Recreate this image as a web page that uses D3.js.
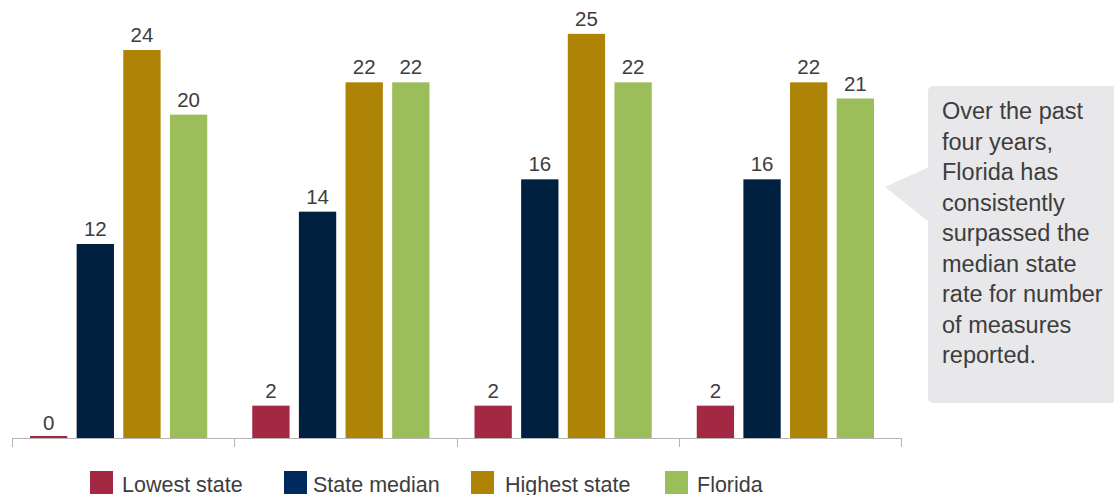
<!DOCTYPE html>
<html>
<head>
<meta charset="utf-8">
<script src="https://cdn.jsdelivr.net/npm/d3@7"></script>
<style>
  body { margin: 0; background: #fff; }
  text { font-family: "Liberation Sans", Arial, sans-serif; fill: #3d3d3d; }
</style>
</head>
<body>
<div id="container"></div>
<script>
// years are not labelled in the picture, so the groups are just 1..4
let groups = ['g1', 'g2', 'g3', 'g4']
let series = ['Lowest state', 'State median', 'Highest state', 'Florida']
let lowest = [0, 2, 2, 2]
let median = [12, 14, 16, 16]
let highest = [24, 22, 25, 22]
let florida = [20, 22, 22, 21]
let colors = ['#a32843', '#00203f', '#ad8405', '#9bbd5a']
let note = ['Over the past', 'four years,', 'Florida has', 'consistently', 'surpassed the',
  'median state', 'rate for number', 'of measures', 'reported.']

var width = 1114, height = 495
var baseY = 438

var svg = d3.select('#container').append('svg')
  .attr('width', width)
  .attr('height', height)

var values = [lowest, median, highest, florida]
var data = groups.map(function (g, i) {
  return series.map(function (s, j) {
    return { group: g, name: s, value: values[j][i], color: colors[j] }
  })
})

var x0 = d3.scaleBand().domain(groups).range([12, 901])
var x1 = d3.scaleBand().domain(series).range([18, x0.bandwidth() - 27]).paddingInner(0.2)
var y = d3.scaleLinear().domain([0, 24]).range([baseY, 50])

// bars
var g = svg.selectAll('.group')
  .data(data)
  .enter().append('g')
  .attr('class', 'group')
  .attr('transform', function (d, i) { return 'translate(' + x0(groups[i]) + ',0)' })

g.selectAll('rect')
  .data(function (d) { return d })
  .enter().append('rect')
  .attr('x', function (d) { return x1(d.name) })
  .attr('width', x1.bandwidth())
  .attr('y', function (d) { return Math.min(y(d.value), baseY - 2) })
  .attr('height', function (d) { return Math.max(baseY - y(d.value), 2) })
  .attr('fill', function (d) { return d.color })

g.selectAll('.val')
  .data(function (d) { return d })
  .enter().append('text')
  .attr('class', 'val')
  .attr('x', function (d) { return x1(d.name) + x1.bandwidth() / 2 })
  .attr('y', function (d) { return y(d.value) - 8 })
  .attr('text-anchor', 'middle')
  .style('font-size', '20.5px')
  .text(function (d) { return d.value })

// x axis: only the line and tick marks between groups
var ticks = groups.map(function (d) { return x0(d) }).concat([x0.range()[1]])
svg.append('line')
  .attr('x1', 12).attr('x2', 901)
  .attr('y1', baseY + 0.5).attr('y2', baseY + 0.5)
  .attr('stroke', '#b5b5b5')
svg.selectAll('.tick')
  .data(ticks)
  .enter().append('line')
  .attr('x1', function (d) { return Math.round(d) + 0.5 })
  .attr('x2', function (d) { return Math.round(d) + 0.5 })
  .attr('y1', baseY).attr('y2', baseY + 9)
  .attr('stroke', '#b5b5b5')

// legend
var legendX = [90, 284, 471, 665]
var legendTextX = [122, 313, 505, 697]
var lg = svg.selectAll('.legend')
  .data(series)
  .enter().append('g')
lg.append('rect')
  .attr('x', function (d, i) { return legendX[i] })
  .attr('y', 471)
  .attr('width', 23).attr('height', 23)
  .attr('fill', function (d, i) { return i == 1 ? '#002a5e' : colors[i] })
lg.append('text')
  .attr('x', function (d, i) { return legendTextX[i] })
  .attr('y', 492)
  .style('font-size', '21.5px')
  .text(function (d) { return d })

// callout box
svg.append('path')
  .attr('d', 'M885,187 L929,167 L929,222 Z')
  .attr('fill', '#e8e8ea')
svg.append('rect')
  .attr('x', 928).attr('y', 86)
  .attr('width', 200).attr('height', 317)
  .attr('rx', 5)
  .attr('fill', '#e8e8ea')
svg.append('text')
  .attr('x', 942)
  .style('font-size', '23.5px')
  .selectAll('tspan')
  .data(note)
  .enter().append('tspan')
  .attr('x', 942)
  .attr('y', function (d, i) { return 119 + i * 30.5 })
  .text(function (d) { return d })
</script>
</body>
</html>
